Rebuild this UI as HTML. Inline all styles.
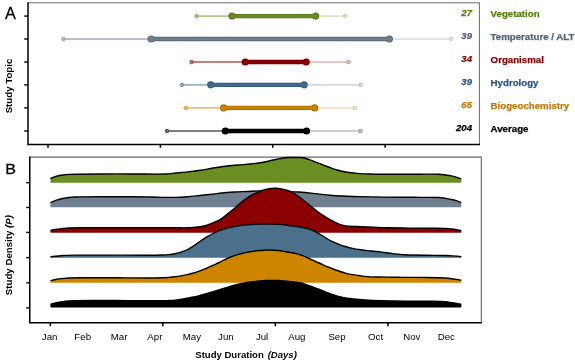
<!DOCTYPE html>
<html><head><meta charset="utf-8"><title>Study Topic / Study Density</title>
<style>
html,body{margin:0;padding:0;background:#fff;}
body{width:575px;height:362px;overflow:hidden;}
svg{display:block;font-family:"Liberation Sans",sans-serif;}
</style></head><body>
<svg width="575" height="362" viewBox="0 0 575 362">
<rect width="575" height="362" fill="#fff"/>
<g style="filter:opacity(1)">
<path d="M28,2.8H479.4V144.5" fill="none" stroke="#6a6a6a" stroke-width="1"/>
<path d="M28,2.3V144.45H479.9" fill="none" stroke="#000" stroke-width="1.5"/>
<path d="M24.2,16.10H28" stroke="#000" stroke-width="1.4"/>
<path d="M24.2,39.00H28" stroke="#000" stroke-width="1.4"/>
<path d="M24.2,62.05H28" stroke="#000" stroke-width="1.4"/>
<path d="M24.2,84.85H28" stroke="#000" stroke-width="1.4"/>
<path d="M24.2,107.90H28" stroke="#000" stroke-width="1.4"/>
<path d="M24.2,131.00H28" stroke="#000" stroke-width="1.4"/>
<path d="M48.00,144.45V147.8" stroke="#000" stroke-width="1.5"/>
<path d="M160.40,144.45V147.8" stroke="#000" stroke-width="1.5"/>
<path d="M272.75,144.45V147.8" stroke="#000" stroke-width="1.5"/>
<path d="M385.10,144.45V147.8" stroke="#000" stroke-width="1.5"/>
<g stroke="#6b8e23" fill="#6b8e23">
<path d="M196.50,16.10H232.00" stroke-width="1.9" opacity="0.5" fill="none"/>
<path d="M315.60,16.10H345.30" stroke-width="1.7" opacity="0.25" fill="none"/>
<circle cx="196.50" cy="16.10" r="1.8" stroke-width="1" stroke-opacity="0.6" fill="#fff"/>
<circle cx="196.50" cy="16.10" r="1.8" stroke-width="0" fill-opacity="0.55"/>
<circle cx="345.30" cy="16.10" r="1.8" stroke-width="1" stroke-opacity="0.32" fill="#fff"/>
<circle cx="345.30" cy="16.10" r="1.8" stroke-width="0" fill-opacity="0.22"/>
<path d="M232.00,16.10H315.60" stroke="#55711c" stroke-width="4.4" fill="none"/>
<circle cx="232.00" cy="16.10" r="3.55" fill="#55711c" stroke="none"/>
<circle cx="315.60" cy="16.10" r="3.55" fill="#55711c" stroke="none"/>
<path d="M232.00,16.10H315.60" stroke-width="2.6" fill="none"/>
<circle cx="232.00" cy="16.10" r="2.6" stroke="none"/>
<circle cx="315.60" cy="16.10" r="2.6" stroke="none"/>
</g>
<text x="472.0" y="16.20" text-anchor="end" font-size="9.6" font-weight="bold" font-style="italic" fill="#55800f" stroke="#55800f" stroke-width="0.25">27</text>
<text x="490.6" y="16.90" font-size="9.7" font-weight="bold" fill="#55800f" stroke="#55800f" stroke-width="0.25">Vegetation</text>
<g stroke="#708090" fill="#708090">
<path d="M63.40,39.00H151.10" stroke-width="1.9" opacity="0.5" fill="none"/>
<path d="M389.40,39.00H451.00" stroke-width="1.7" opacity="0.25" fill="none"/>
<circle cx="63.40" cy="39.00" r="1.8" stroke-width="1" stroke-opacity="0.6" fill="#fff"/>
<circle cx="63.40" cy="39.00" r="1.8" stroke-width="0" fill-opacity="0.55"/>
<circle cx="451.00" cy="39.00" r="1.8" stroke-width="1" stroke-opacity="0.32" fill="#fff"/>
<circle cx="451.00" cy="39.00" r="1.8" stroke-width="0" fill-opacity="0.22"/>
<path d="M151.10,39.00H389.40" stroke="#596673" stroke-width="4.4" fill="none"/>
<circle cx="151.10" cy="39.00" r="3.55" fill="#596673" stroke="none"/>
<circle cx="389.40" cy="39.00" r="3.55" fill="#596673" stroke="none"/>
<path d="M151.10,39.00H389.40" stroke-width="2.6" fill="none"/>
<circle cx="151.10" cy="39.00" r="2.6" stroke="none"/>
<circle cx="389.40" cy="39.00" r="2.6" stroke="none"/>
</g>
<text x="472.0" y="39.10" text-anchor="end" font-size="9.6" font-weight="bold" font-style="italic" fill="#526178" stroke="#526178" stroke-width="0.25">39</text>
<text x="490.6" y="39.80" font-size="9.7" font-weight="bold" fill="#526178" stroke="#526178" stroke-width="0.25">Temperature / ALT</text>
<g stroke="#8b0000" fill="#8b0000">
<path d="M191.60,62.05H245.20" stroke-width="1.9" opacity="0.5" fill="none"/>
<path d="M306.20,62.05H348.60" stroke-width="1.7" opacity="0.25" fill="none"/>
<circle cx="191.60" cy="62.05" r="1.8" stroke-width="1" stroke-opacity="0.6" fill="#fff"/>
<circle cx="191.60" cy="62.05" r="1.8" stroke-width="0" fill-opacity="0.55"/>
<circle cx="348.60" cy="62.05" r="1.8" stroke-width="1" stroke-opacity="0.32" fill="#fff"/>
<circle cx="348.60" cy="62.05" r="1.8" stroke-width="0" fill-opacity="0.22"/>
<path d="M245.20,62.05H306.20" stroke="#6f0000" stroke-width="4.4" fill="none"/>
<circle cx="245.20" cy="62.05" r="3.55" fill="#6f0000" stroke="none"/>
<circle cx="306.20" cy="62.05" r="3.55" fill="#6f0000" stroke="none"/>
<path d="M245.20,62.05H306.20" stroke-width="2.6" fill="none"/>
<circle cx="245.20" cy="62.05" r="2.6" stroke="none"/>
<circle cx="306.20" cy="62.05" r="2.6" stroke="none"/>
</g>
<text x="472.0" y="62.15" text-anchor="end" font-size="9.6" font-weight="bold" font-style="italic" fill="#850000" stroke="#850000" stroke-width="0.25">34</text>
<text x="490.6" y="62.85" font-size="9.7" font-weight="bold" fill="#850000" stroke="#850000" stroke-width="0.25">Organismal</text>
<g stroke="#3f6b92" fill="#3f6b92">
<path d="M182.00,84.85H210.70" stroke-width="1.9" opacity="0.5" fill="none"/>
<path d="M304.20,84.85H360.80" stroke-width="1.7" opacity="0.25" fill="none"/>
<circle cx="182.00" cy="84.85" r="1.8" stroke-width="1" stroke-opacity="0.6" fill="#fff"/>
<circle cx="182.00" cy="84.85" r="1.8" stroke-width="0" fill-opacity="0.55"/>
<circle cx="360.80" cy="84.85" r="1.8" stroke-width="1" stroke-opacity="0.32" fill="#fff"/>
<circle cx="360.80" cy="84.85" r="1.8" stroke-width="0" fill-opacity="0.22"/>
<path d="M210.70,84.85H304.20" stroke="#325574" stroke-width="4.4" fill="none"/>
<circle cx="210.70" cy="84.85" r="3.55" fill="#325574" stroke="none"/>
<circle cx="304.20" cy="84.85" r="3.55" fill="#325574" stroke="none"/>
<path d="M210.70,84.85H304.20" stroke-width="2.6" fill="none"/>
<circle cx="210.70" cy="84.85" r="2.6" stroke="none"/>
<circle cx="304.20" cy="84.85" r="2.6" stroke="none"/>
</g>
<text x="472.0" y="84.95" text-anchor="end" font-size="9.6" font-weight="bold" font-style="italic" fill="#2a5580" stroke="#2a5580" stroke-width="0.25">39</text>
<text x="490.6" y="85.65" font-size="9.7" font-weight="bold" fill="#2a5580" stroke="#2a5580" stroke-width="0.25">Hydrology</text>
<g stroke="#cd8500" fill="#cd8500">
<path d="M185.75,107.90H223.60" stroke-width="1.9" opacity="0.5" fill="none"/>
<path d="M314.60,107.90H355.10" stroke-width="1.7" opacity="0.25" fill="none"/>
<circle cx="185.75" cy="107.90" r="1.8" stroke-width="1" stroke-opacity="0.6" fill="#fff"/>
<circle cx="185.75" cy="107.90" r="1.8" stroke-width="0" fill-opacity="0.55"/>
<circle cx="355.10" cy="107.90" r="1.8" stroke-width="1" stroke-opacity="0.32" fill="#fff"/>
<circle cx="355.10" cy="107.90" r="1.8" stroke-width="0" fill-opacity="0.22"/>
<path d="M223.60,107.90H314.60" stroke="#a46a00" stroke-width="4.4" fill="none"/>
<circle cx="223.60" cy="107.90" r="3.55" fill="#a46a00" stroke="none"/>
<circle cx="314.60" cy="107.90" r="3.55" fill="#a46a00" stroke="none"/>
<path d="M223.60,107.90H314.60" stroke-width="2.6" fill="none"/>
<circle cx="223.60" cy="107.90" r="2.6" stroke="none"/>
<circle cx="314.60" cy="107.90" r="2.6" stroke="none"/>
</g>
<text x="472.0" y="108.00" text-anchor="end" font-size="9.6" font-weight="bold" font-style="italic" fill="#c57908" stroke="#c57908" stroke-width="0.25">65</text>
<text x="490.6" y="108.70" font-size="9.7" font-weight="bold" fill="#c57908" stroke="#c57908" stroke-width="0.25">Biogeochemistry</text>
<g stroke="#000000" fill="#000000">
<path d="M167.00,131.00H225.30" stroke-width="1.9" opacity="0.5" fill="none"/>
<path d="M306.60,131.00H360.40" stroke-width="1.7" opacity="0.25" fill="none"/>
<circle cx="167.00" cy="131.00" r="1.8" stroke-width="1" stroke-opacity="0.6" fill="#fff"/>
<circle cx="167.00" cy="131.00" r="1.8" stroke-width="0" fill-opacity="0.55"/>
<circle cx="360.40" cy="131.00" r="1.8" stroke-width="1" stroke-opacity="0.32" fill="#fff"/>
<circle cx="360.40" cy="131.00" r="1.8" stroke-width="0" fill-opacity="0.22"/>
<path d="M225.30,131.00H306.60" stroke="#000000" stroke-width="4.4" fill="none"/>
<circle cx="225.30" cy="131.00" r="3.55" fill="#000000" stroke="none"/>
<circle cx="306.60" cy="131.00" r="3.55" fill="#000000" stroke="none"/>
<path d="M225.30,131.00H306.60" stroke-width="2.6" fill="none"/>
<circle cx="225.30" cy="131.00" r="2.6" stroke="none"/>
<circle cx="306.60" cy="131.00" r="2.6" stroke="none"/>
</g>
<text x="472.0" y="131.10" text-anchor="end" font-size="9.6" font-weight="bold" font-style="italic" fill="#000000" stroke="#000000" stroke-width="0.25">204</text>
<text x="490.6" y="131.80" font-size="9.7" font-weight="bold" fill="#000000" stroke="#000000" stroke-width="0.25">Average</text>
<path d="M29.75,157.1H481.3V322.75" fill="none" stroke="#666" stroke-width="1.1"/>
<path d="M50.50,178.40 C51.50,178.05 54.46,176.86 56.50,176.30 C58.54,175.74 60.67,175.37 62.75,175.05 C64.83,174.73 65.88,174.54 69.00,174.40 C72.12,174.26 73.67,174.28 81.50,174.20 C89.33,174.12 106.08,173.93 116.00,173.90 C125.92,173.88 132.67,174.03 141.00,174.05 C149.33,174.08 160.83,174.16 166.00,174.05 C171.17,173.94 169.50,173.65 172.00,173.40 C174.50,173.15 178.33,172.80 181.00,172.55 C183.67,172.30 184.75,172.28 188.00,171.90 C191.25,171.53 196.33,170.94 200.50,170.30 C204.67,169.66 208.83,168.73 213.00,168.05 C217.17,167.37 221.33,166.70 225.50,166.20 C229.67,165.70 233.83,165.41 238.00,165.05 C242.17,164.69 246.83,164.43 250.50,164.05 C254.17,163.68 256.42,163.43 260.00,162.80 C263.58,162.18 269.00,160.93 272.00,160.30 C275.00,159.68 276.33,159.40 278.00,159.05 C279.67,158.70 280.83,158.43 282.00,158.20 C283.17,157.98 284.00,157.82 285.00,157.70 C286.00,157.58 286.50,157.54 288.00,157.50 C289.50,157.46 292.00,157.45 294.00,157.45 C296.00,157.45 298.50,157.45 300.00,157.50 C301.50,157.55 302.00,157.58 303.00,157.75 C304.00,157.92 304.83,158.14 306.00,158.50 C307.17,158.86 308.50,159.35 310.00,159.90 C311.50,160.45 312.75,160.93 315.00,161.80 C317.25,162.67 320.67,164.00 323.50,165.10 C326.33,166.20 329.58,167.53 332.00,168.40 C334.42,169.27 335.92,169.73 338.00,170.30 C340.08,170.87 342.38,171.38 344.50,171.80 C346.62,172.22 348.67,172.53 350.75,172.80 C352.83,173.07 353.88,173.19 357.00,173.40 C360.12,173.61 365.33,173.90 369.50,174.05 C373.67,174.20 376.25,174.26 382.00,174.30 C387.75,174.34 397.67,174.32 404.00,174.30 C410.33,174.28 414.21,174.20 420.00,174.20 C425.79,174.20 433.54,174.02 438.75,174.30 C443.96,174.58 448.12,175.36 451.25,175.90 C454.38,176.44 455.82,177.07 457.50,177.55 C459.18,178.03 460.67,178.59 461.30,178.80 L461.30,182.78 L50.50,182.78 Z" fill="#6b8e23" stroke="none"/>
<path d="M50.50,178.40 C51.50,178.05 54.46,176.86 56.50,176.30 C58.54,175.74 60.67,175.37 62.75,175.05 C64.83,174.73 65.88,174.54 69.00,174.40 C72.12,174.26 73.67,174.28 81.50,174.20 C89.33,174.12 106.08,173.93 116.00,173.90 C125.92,173.88 132.67,174.03 141.00,174.05 C149.33,174.08 160.83,174.16 166.00,174.05 C171.17,173.94 169.50,173.65 172.00,173.40 C174.50,173.15 178.33,172.80 181.00,172.55 C183.67,172.30 184.75,172.28 188.00,171.90 C191.25,171.53 196.33,170.94 200.50,170.30 C204.67,169.66 208.83,168.73 213.00,168.05 C217.17,167.37 221.33,166.70 225.50,166.20 C229.67,165.70 233.83,165.41 238.00,165.05 C242.17,164.69 246.83,164.43 250.50,164.05 C254.17,163.68 256.42,163.43 260.00,162.80 C263.58,162.18 269.00,160.93 272.00,160.30 C275.00,159.68 276.33,159.40 278.00,159.05 C279.67,158.70 280.83,158.43 282.00,158.20 C283.17,157.98 284.00,157.82 285.00,157.70 C286.00,157.58 286.50,157.54 288.00,157.50 C289.50,157.46 292.00,157.45 294.00,157.45 C296.00,157.45 298.50,157.45 300.00,157.50 C301.50,157.55 302.00,157.58 303.00,157.75 C304.00,157.92 304.83,158.14 306.00,158.50 C307.17,158.86 308.50,159.35 310.00,159.90 C311.50,160.45 312.75,160.93 315.00,161.80 C317.25,162.67 320.67,164.00 323.50,165.10 C326.33,166.20 329.58,167.53 332.00,168.40 C334.42,169.27 335.92,169.73 338.00,170.30 C340.08,170.87 342.38,171.38 344.50,171.80 C346.62,172.22 348.67,172.53 350.75,172.80 C352.83,173.07 353.88,173.19 357.00,173.40 C360.12,173.61 365.33,173.90 369.50,174.05 C373.67,174.20 376.25,174.26 382.00,174.30 C387.75,174.34 397.67,174.32 404.00,174.30 C410.33,174.28 414.21,174.20 420.00,174.20 C425.79,174.20 433.54,174.02 438.75,174.30 C443.96,174.58 448.12,175.36 451.25,175.90 C454.38,176.44 455.82,177.07 457.50,177.55 C459.18,178.03 460.67,178.59 461.30,178.80" fill="none" stroke="#000" stroke-width="1.4" stroke-linejoin="round"/>
<path d="M50.50,202.55 C51.50,202.16 54.46,200.87 56.50,200.20 C58.54,199.53 60.67,198.99 62.75,198.55 C64.83,198.11 66.96,197.80 69.00,197.55 C71.04,197.30 72.92,197.17 75.00,197.05 C77.08,196.93 74.67,196.91 81.50,196.85 C88.33,196.79 104.58,196.68 116.00,196.70 C127.42,196.72 142.25,196.84 150.00,196.95 C157.75,197.06 158.33,197.28 162.50,197.35 C166.67,197.42 170.83,197.46 175.00,197.35 C179.17,197.24 183.33,197.02 187.50,196.70 C191.67,196.38 195.83,195.87 200.00,195.45 C204.17,195.03 208.83,194.62 212.50,194.20 C216.17,193.78 218.33,193.31 222.00,192.95 C225.67,192.59 230.33,192.30 234.50,192.05 C238.67,191.80 242.83,191.65 247.00,191.45 C251.17,191.25 254.83,190.98 259.50,190.85 C264.17,190.72 269.92,190.52 275.00,190.65 C280.08,190.78 286.04,191.42 290.00,191.65 C293.96,191.88 296.25,191.90 298.75,192.05 C301.25,192.20 301.88,192.25 305.00,192.55 C308.12,192.85 313.33,193.41 317.50,193.85 C321.67,194.29 325.83,194.83 330.00,195.20 C334.17,195.57 338.83,195.84 342.50,196.05 C346.17,196.26 347.42,196.32 352.00,196.45 C356.58,196.58 362.00,196.72 370.00,196.85 C378.00,196.98 391.67,197.17 400.00,197.25 C408.33,197.33 413.54,197.30 420.00,197.35 C426.46,197.40 433.54,197.20 438.75,197.55 C443.96,197.90 448.12,198.87 451.25,199.45 C454.38,200.03 455.82,200.53 457.50,201.05 C459.18,201.57 460.67,202.30 461.30,202.55 L461.30,207.27 L50.50,207.27 Z" fill="#708090" stroke="none"/>
<path d="M50.50,202.55 C51.50,202.16 54.46,200.87 56.50,200.20 C58.54,199.53 60.67,198.99 62.75,198.55 C64.83,198.11 66.96,197.80 69.00,197.55 C71.04,197.30 72.92,197.17 75.00,197.05 C77.08,196.93 74.67,196.91 81.50,196.85 C88.33,196.79 104.58,196.68 116.00,196.70 C127.42,196.72 142.25,196.84 150.00,196.95 C157.75,197.06 158.33,197.28 162.50,197.35 C166.67,197.42 170.83,197.46 175.00,197.35 C179.17,197.24 183.33,197.02 187.50,196.70 C191.67,196.38 195.83,195.87 200.00,195.45 C204.17,195.03 208.83,194.62 212.50,194.20 C216.17,193.78 218.33,193.31 222.00,192.95 C225.67,192.59 230.33,192.30 234.50,192.05 C238.67,191.80 242.83,191.65 247.00,191.45 C251.17,191.25 254.83,190.98 259.50,190.85 C264.17,190.72 269.92,190.52 275.00,190.65 C280.08,190.78 286.04,191.42 290.00,191.65 C293.96,191.88 296.25,191.90 298.75,192.05 C301.25,192.20 301.88,192.25 305.00,192.55 C308.12,192.85 313.33,193.41 317.50,193.85 C321.67,194.29 325.83,194.83 330.00,195.20 C334.17,195.57 338.83,195.84 342.50,196.05 C346.17,196.26 347.42,196.32 352.00,196.45 C356.58,196.58 362.00,196.72 370.00,196.85 C378.00,196.98 391.67,197.17 400.00,197.25 C408.33,197.33 413.54,197.30 420.00,197.35 C426.46,197.40 433.54,197.20 438.75,197.55 C443.96,197.90 448.12,198.87 451.25,199.45 C454.38,200.03 455.82,200.53 457.50,201.05 C459.18,201.57 460.67,202.30 461.30,202.55" fill="none" stroke="#000" stroke-width="1.4" stroke-linejoin="round"/>
<path d="M50.50,230.55 C51.50,230.34 54.46,229.63 56.50,229.30 C58.54,228.97 60.67,228.76 62.75,228.55 C64.83,228.34 65.88,228.18 69.00,228.05 C72.12,227.93 68.00,227.84 81.50,227.80 C95.00,227.76 134.42,227.80 150.00,227.80 C165.58,227.80 168.75,227.80 175.00,227.80 C181.25,227.80 184.38,227.87 187.50,227.80 C190.62,227.73 191.67,227.57 193.75,227.40 C195.83,227.23 197.92,227.15 200.00,226.80 C202.08,226.45 204.17,225.93 206.25,225.30 C208.33,224.68 210.42,223.88 212.50,223.05 C214.58,222.22 217.17,221.08 218.75,220.30 C220.33,219.53 220.42,219.55 222.00,218.40 C223.58,217.25 226.17,215.07 228.25,213.40 C230.33,211.73 232.42,210.17 234.50,208.40 C236.58,206.63 238.67,204.53 240.75,202.80 C242.83,201.08 244.92,199.45 247.00,198.05 C249.08,196.65 251.17,195.48 253.25,194.40 C255.33,193.32 257.42,192.38 259.50,191.55 C261.58,190.72 263.67,189.93 265.75,189.40 C267.83,188.88 270.46,188.60 272.00,188.40 C273.54,188.20 273.96,188.20 275.00,188.20 C276.04,188.20 276.67,188.15 278.25,188.40 C279.83,188.65 282.42,189.15 284.50,189.70 C286.58,190.25 288.38,190.56 290.75,191.70 C293.12,192.84 296.38,194.91 298.75,196.55 C301.12,198.19 302.92,199.88 305.00,201.55 C307.08,203.22 309.17,204.88 311.25,206.55 C313.33,208.22 315.42,209.99 317.50,211.55 C319.58,213.11 321.67,214.54 323.75,215.90 C325.83,217.26 327.92,218.55 330.00,219.70 C332.08,220.85 334.21,221.90 336.25,222.80 C338.29,223.70 340.21,224.53 342.25,225.10 C344.29,225.67 345.38,225.93 348.50,226.20 C351.62,226.47 356.83,226.52 361.00,226.70 C365.17,226.88 369.33,227.12 373.50,227.30 C377.67,227.48 380.25,227.67 386.00,227.80 C391.75,227.93 400.17,228.03 408.00,228.10 C415.83,228.17 426.75,228.15 433.00,228.20 C439.25,228.25 442.38,228.26 445.50,228.40 C448.62,228.54 449.67,228.78 451.75,229.05 C453.83,229.33 456.41,229.78 458.00,230.05 C459.59,230.33 460.75,230.59 461.30,230.70 L461.30,232.68 L50.50,232.68 Z" fill="#8b0000" stroke="none"/>
<path d="M50.50,230.55 C51.50,230.34 54.46,229.63 56.50,229.30 C58.54,228.97 60.67,228.76 62.75,228.55 C64.83,228.34 65.88,228.18 69.00,228.05 C72.12,227.93 68.00,227.84 81.50,227.80 C95.00,227.76 134.42,227.80 150.00,227.80 C165.58,227.80 168.75,227.80 175.00,227.80 C181.25,227.80 184.38,227.87 187.50,227.80 C190.62,227.73 191.67,227.57 193.75,227.40 C195.83,227.23 197.92,227.15 200.00,226.80 C202.08,226.45 204.17,225.93 206.25,225.30 C208.33,224.68 210.42,223.88 212.50,223.05 C214.58,222.22 217.17,221.08 218.75,220.30 C220.33,219.53 220.42,219.55 222.00,218.40 C223.58,217.25 226.17,215.07 228.25,213.40 C230.33,211.73 232.42,210.17 234.50,208.40 C236.58,206.63 238.67,204.53 240.75,202.80 C242.83,201.08 244.92,199.45 247.00,198.05 C249.08,196.65 251.17,195.48 253.25,194.40 C255.33,193.32 257.42,192.38 259.50,191.55 C261.58,190.72 263.67,189.93 265.75,189.40 C267.83,188.88 270.46,188.60 272.00,188.40 C273.54,188.20 273.96,188.20 275.00,188.20 C276.04,188.20 276.67,188.15 278.25,188.40 C279.83,188.65 282.42,189.15 284.50,189.70 C286.58,190.25 288.38,190.56 290.75,191.70 C293.12,192.84 296.38,194.91 298.75,196.55 C301.12,198.19 302.92,199.88 305.00,201.55 C307.08,203.22 309.17,204.88 311.25,206.55 C313.33,208.22 315.42,209.99 317.50,211.55 C319.58,213.11 321.67,214.54 323.75,215.90 C325.83,217.26 327.92,218.55 330.00,219.70 C332.08,220.85 334.21,221.90 336.25,222.80 C338.29,223.70 340.21,224.53 342.25,225.10 C344.29,225.67 345.38,225.93 348.50,226.20 C351.62,226.47 356.83,226.52 361.00,226.70 C365.17,226.88 369.33,227.12 373.50,227.30 C377.67,227.48 380.25,227.67 386.00,227.80 C391.75,227.93 400.17,228.03 408.00,228.10 C415.83,228.17 426.75,228.15 433.00,228.20 C439.25,228.25 442.38,228.26 445.50,228.40 C448.62,228.54 449.67,228.78 451.75,229.05 C453.83,229.33 456.41,229.78 458.00,230.05 C459.59,230.33 460.75,230.59 461.30,230.70" fill="none" stroke="#000" stroke-width="1.4" stroke-linejoin="round"/>
<path d="M50.50,256.75 C52.54,256.54 58.67,255.77 62.75,255.50 C66.83,255.23 66.12,255.21 75.00,255.15 C83.88,255.09 103.50,255.13 116.00,255.15 C128.50,255.17 142.25,255.28 150.00,255.25 C157.75,255.22 159.38,255.10 162.50,255.00 C165.62,254.90 166.67,254.86 168.75,254.65 C170.83,254.44 172.92,254.17 175.00,253.75 C177.08,253.33 179.17,252.83 181.25,252.15 C183.33,251.47 185.42,250.70 187.50,249.65 C189.58,248.60 191.67,247.21 193.75,245.85 C195.83,244.49 197.92,242.95 200.00,241.50 C202.08,240.05 204.17,238.44 206.25,237.15 C208.33,235.86 210.42,234.80 212.50,233.75 C214.58,232.70 217.17,231.52 218.75,230.85 C220.33,230.18 220.42,230.27 222.00,229.75 C223.58,229.23 226.17,228.29 228.25,227.75 C230.33,227.21 232.42,226.88 234.50,226.50 C236.58,226.12 238.67,225.78 240.75,225.50 C242.83,225.22 244.92,225.04 247.00,224.85 C249.08,224.66 251.17,224.47 253.25,224.35 C255.33,224.23 257.42,224.21 259.50,224.15 C261.58,224.09 263.67,224.00 265.75,224.00 C267.83,224.00 269.92,224.09 272.00,224.15 C274.08,224.21 276.17,224.23 278.25,224.35 C280.33,224.47 282.42,224.62 284.50,224.85 C286.58,225.08 288.79,225.47 290.75,225.75 C292.71,226.03 294.29,226.21 296.25,226.50 C298.21,226.79 300.42,227.08 302.50,227.50 C304.58,227.92 306.67,228.33 308.75,229.00 C310.83,229.67 312.92,230.50 315.00,231.50 C317.08,232.50 319.17,233.75 321.25,235.00 C323.33,236.25 325.42,237.81 327.50,239.00 C329.58,240.19 331.67,241.18 333.75,242.15 C335.83,243.12 337.92,244.08 340.00,244.85 C342.08,245.62 344.17,246.17 346.25,246.75 C348.33,247.33 350.42,247.88 352.50,248.35 C354.58,248.82 356.25,249.17 358.75,249.55 C361.25,249.93 365.00,250.37 367.50,250.65 C370.00,250.93 371.67,251.05 373.75,251.25 C375.83,251.45 377.92,251.60 380.00,251.85 C382.08,252.10 384.17,252.45 386.25,252.75 C388.33,253.05 390.42,253.40 392.50,253.65 C394.58,253.90 396.67,254.07 398.75,254.25 C400.83,254.43 402.92,254.62 405.00,254.75 C407.08,254.88 407.58,254.92 411.25,255.00 C414.92,255.08 421.29,255.17 427.00,255.25 C432.71,255.33 441.38,255.40 445.50,255.50 C449.62,255.60 449.67,255.72 451.75,255.85 C453.83,255.97 456.41,256.10 458.00,256.25 C459.59,256.40 460.75,256.67 461.30,256.75 L461.30,257.75 L50.50,257.75 Z" fill="#4a708b" stroke="none"/>
<path d="M50.50,256.75 C52.54,256.54 58.67,255.77 62.75,255.50 C66.83,255.23 66.12,255.21 75.00,255.15 C83.88,255.09 103.50,255.13 116.00,255.15 C128.50,255.17 142.25,255.28 150.00,255.25 C157.75,255.22 159.38,255.10 162.50,255.00 C165.62,254.90 166.67,254.86 168.75,254.65 C170.83,254.44 172.92,254.17 175.00,253.75 C177.08,253.33 179.17,252.83 181.25,252.15 C183.33,251.47 185.42,250.70 187.50,249.65 C189.58,248.60 191.67,247.21 193.75,245.85 C195.83,244.49 197.92,242.95 200.00,241.50 C202.08,240.05 204.17,238.44 206.25,237.15 C208.33,235.86 210.42,234.80 212.50,233.75 C214.58,232.70 217.17,231.52 218.75,230.85 C220.33,230.18 220.42,230.27 222.00,229.75 C223.58,229.23 226.17,228.29 228.25,227.75 C230.33,227.21 232.42,226.88 234.50,226.50 C236.58,226.12 238.67,225.78 240.75,225.50 C242.83,225.22 244.92,225.04 247.00,224.85 C249.08,224.66 251.17,224.47 253.25,224.35 C255.33,224.23 257.42,224.21 259.50,224.15 C261.58,224.09 263.67,224.00 265.75,224.00 C267.83,224.00 269.92,224.09 272.00,224.15 C274.08,224.21 276.17,224.23 278.25,224.35 C280.33,224.47 282.42,224.62 284.50,224.85 C286.58,225.08 288.79,225.47 290.75,225.75 C292.71,226.03 294.29,226.21 296.25,226.50 C298.21,226.79 300.42,227.08 302.50,227.50 C304.58,227.92 306.67,228.33 308.75,229.00 C310.83,229.67 312.92,230.50 315.00,231.50 C317.08,232.50 319.17,233.75 321.25,235.00 C323.33,236.25 325.42,237.81 327.50,239.00 C329.58,240.19 331.67,241.18 333.75,242.15 C335.83,243.12 337.92,244.08 340.00,244.85 C342.08,245.62 344.17,246.17 346.25,246.75 C348.33,247.33 350.42,247.88 352.50,248.35 C354.58,248.82 356.25,249.17 358.75,249.55 C361.25,249.93 365.00,250.37 367.50,250.65 C370.00,250.93 371.67,251.05 373.75,251.25 C375.83,251.45 377.92,251.60 380.00,251.85 C382.08,252.10 384.17,252.45 386.25,252.75 C388.33,253.05 390.42,253.40 392.50,253.65 C394.58,253.90 396.67,254.07 398.75,254.25 C400.83,254.43 402.92,254.62 405.00,254.75 C407.08,254.88 407.58,254.92 411.25,255.00 C414.92,255.08 421.29,255.17 427.00,255.25 C432.71,255.33 441.38,255.40 445.50,255.50 C449.62,255.60 449.67,255.72 451.75,255.85 C453.83,255.97 456.41,256.10 458.00,256.25 C459.59,256.40 460.75,256.67 461.30,256.75" fill="none" stroke="#000" stroke-width="1.4" stroke-linejoin="round"/>
<path d="M50.50,280.65 C51.50,280.42 54.46,279.61 56.50,279.25 C58.54,278.89 60.67,278.71 62.75,278.50 C64.83,278.29 65.88,278.12 69.00,278.00 C72.12,277.88 73.67,277.79 81.50,277.75 C89.33,277.71 104.58,277.71 116.00,277.75 C127.42,277.79 142.25,278.00 150.00,278.00 C157.75,278.00 159.38,277.86 162.50,277.75 C165.62,277.64 166.67,277.52 168.75,277.35 C170.83,277.18 172.92,277.00 175.00,276.75 C177.08,276.50 179.17,276.20 181.25,275.85 C183.33,275.50 185.42,275.12 187.50,274.65 C189.58,274.17 191.67,273.63 193.75,273.00 C195.83,272.37 197.92,271.62 200.00,270.85 C202.08,270.08 204.17,269.24 206.25,268.35 C208.33,267.46 210.42,266.43 212.50,265.50 C214.58,264.57 217.17,263.49 218.75,262.75 C220.33,262.01 220.42,261.84 222.00,261.05 C223.58,260.26 226.17,258.90 228.25,258.00 C230.33,257.10 232.42,256.36 234.50,255.65 C236.58,254.94 238.67,254.30 240.75,253.75 C242.83,253.20 244.92,252.77 247.00,252.35 C249.08,251.93 251.17,251.56 253.25,251.25 C255.33,250.94 257.42,250.68 259.50,250.50 C261.58,250.32 264.00,250.23 265.75,250.15 C267.50,250.07 267.92,249.94 270.00,250.00 C272.08,250.06 275.83,250.25 278.25,250.50 C280.67,250.75 282.42,251.16 284.50,251.50 C286.58,251.84 288.79,252.19 290.75,252.55 C292.71,252.91 294.29,253.13 296.25,253.65 C298.21,254.17 300.42,254.88 302.50,255.65 C304.58,256.42 306.67,257.32 308.75,258.25 C310.83,259.18 312.92,260.29 315.00,261.25 C317.08,262.21 319.17,263.08 321.25,264.00 C323.33,264.92 325.42,265.88 327.50,266.75 C329.58,267.62 331.67,268.46 333.75,269.25 C335.83,270.04 337.92,270.82 340.00,271.50 C342.08,272.18 344.17,272.83 346.25,273.35 C348.33,273.88 350.42,274.28 352.50,274.65 C354.58,275.02 356.25,275.22 358.75,275.55 C361.25,275.88 363.96,276.41 367.50,276.65 C371.04,276.89 375.83,276.90 380.00,277.00 C384.17,277.10 388.33,277.19 392.50,277.25 C396.67,277.31 399.25,277.31 405.00,277.35 C410.75,277.39 420.25,277.39 427.00,277.50 C433.75,277.61 441.38,277.79 445.50,278.00 C449.62,278.21 449.67,278.48 451.75,278.75 C453.83,279.02 456.41,279.40 458.00,279.65 C459.59,279.90 460.75,280.15 461.30,280.25 L461.30,282.75 L50.50,282.75 Z" fill="#cd8500" stroke="none"/>
<path d="M50.50,280.65 C51.50,280.42 54.46,279.61 56.50,279.25 C58.54,278.89 60.67,278.71 62.75,278.50 C64.83,278.29 65.88,278.12 69.00,278.00 C72.12,277.88 73.67,277.79 81.50,277.75 C89.33,277.71 104.58,277.71 116.00,277.75 C127.42,277.79 142.25,278.00 150.00,278.00 C157.75,278.00 159.38,277.86 162.50,277.75 C165.62,277.64 166.67,277.52 168.75,277.35 C170.83,277.18 172.92,277.00 175.00,276.75 C177.08,276.50 179.17,276.20 181.25,275.85 C183.33,275.50 185.42,275.12 187.50,274.65 C189.58,274.17 191.67,273.63 193.75,273.00 C195.83,272.37 197.92,271.62 200.00,270.85 C202.08,270.08 204.17,269.24 206.25,268.35 C208.33,267.46 210.42,266.43 212.50,265.50 C214.58,264.57 217.17,263.49 218.75,262.75 C220.33,262.01 220.42,261.84 222.00,261.05 C223.58,260.26 226.17,258.90 228.25,258.00 C230.33,257.10 232.42,256.36 234.50,255.65 C236.58,254.94 238.67,254.30 240.75,253.75 C242.83,253.20 244.92,252.77 247.00,252.35 C249.08,251.93 251.17,251.56 253.25,251.25 C255.33,250.94 257.42,250.68 259.50,250.50 C261.58,250.32 264.00,250.23 265.75,250.15 C267.50,250.07 267.92,249.94 270.00,250.00 C272.08,250.06 275.83,250.25 278.25,250.50 C280.67,250.75 282.42,251.16 284.50,251.50 C286.58,251.84 288.79,252.19 290.75,252.55 C292.71,252.91 294.29,253.13 296.25,253.65 C298.21,254.17 300.42,254.88 302.50,255.65 C304.58,256.42 306.67,257.32 308.75,258.25 C310.83,259.18 312.92,260.29 315.00,261.25 C317.08,262.21 319.17,263.08 321.25,264.00 C323.33,264.92 325.42,265.88 327.50,266.75 C329.58,267.62 331.67,268.46 333.75,269.25 C335.83,270.04 337.92,270.82 340.00,271.50 C342.08,272.18 344.17,272.83 346.25,273.35 C348.33,273.88 350.42,274.28 352.50,274.65 C354.58,275.02 356.25,275.22 358.75,275.55 C361.25,275.88 363.96,276.41 367.50,276.65 C371.04,276.89 375.83,276.90 380.00,277.00 C384.17,277.10 388.33,277.19 392.50,277.25 C396.67,277.31 399.25,277.31 405.00,277.35 C410.75,277.39 420.25,277.39 427.00,277.50 C433.75,277.61 441.38,277.79 445.50,278.00 C449.62,278.21 449.67,278.48 451.75,278.75 C453.83,279.02 456.41,279.40 458.00,279.65 C459.59,279.90 460.75,280.15 461.30,280.25" fill="none" stroke="#000" stroke-width="1.4" stroke-linejoin="round"/>
<path d="M50.50,304.30 C51.50,304.03 54.46,303.13 56.50,302.70 C58.54,302.27 60.67,301.97 62.75,301.70 C64.83,301.43 66.96,301.23 69.00,301.05 C71.04,300.88 69.83,300.74 75.00,300.65 C80.17,300.56 90.83,300.49 100.00,300.50 C109.17,300.51 121.67,300.65 130.00,300.70 C138.33,300.75 144.58,300.78 150.00,300.80 C155.42,300.82 159.38,300.84 162.50,300.80 C165.62,300.76 166.67,300.65 168.75,300.55 C170.83,300.45 172.92,300.41 175.00,300.20 C177.08,299.99 179.17,299.62 181.25,299.30 C183.33,298.98 185.42,298.68 187.50,298.30 C189.58,297.93 191.67,297.53 193.75,297.05 C195.83,296.57 197.92,295.96 200.00,295.40 C202.08,294.84 204.17,294.30 206.25,293.70 C208.33,293.10 210.42,292.43 212.50,291.80 C214.58,291.17 217.17,290.38 218.75,289.90 C220.33,289.42 220.42,289.38 222.00,288.90 C223.58,288.43 226.17,287.67 228.25,287.05 C230.33,286.43 232.42,285.76 234.50,285.20 C236.58,284.64 238.67,284.17 240.75,283.70 C242.83,283.23 244.92,282.73 247.00,282.40 C249.08,282.07 251.17,281.93 253.25,281.70 C255.33,281.47 257.42,281.24 259.50,281.05 C261.58,280.86 263.67,280.66 265.75,280.55 C267.83,280.44 269.92,280.40 272.00,280.40 C274.08,280.40 276.17,280.44 278.25,280.55 C280.33,280.66 282.42,280.88 284.50,281.05 C286.58,281.23 288.79,281.39 290.75,281.60 C292.71,281.81 294.71,282.10 296.25,282.30 C297.79,282.50 298.33,282.43 300.00,282.80 C301.67,283.18 304.17,283.88 306.25,284.55 C308.33,285.22 310.42,286.03 312.50,286.80 C314.58,287.57 316.67,288.37 318.75,289.20 C320.83,290.03 322.92,290.97 325.00,291.80 C327.08,292.63 329.17,293.47 331.25,294.20 C333.33,294.93 335.42,295.62 337.50,296.20 C339.58,296.78 341.67,297.31 343.75,297.70 C345.83,298.09 347.92,298.28 350.00,298.55 C352.08,298.82 354.17,299.09 356.25,299.30 C358.33,299.51 359.88,299.62 362.50,299.80 C365.12,299.98 367.00,300.22 372.00,300.40 C377.00,300.58 387.00,300.77 392.50,300.90 C398.00,301.03 398.25,301.15 405.00,301.20 C411.75,301.25 426.25,301.12 433.00,301.20 C439.75,301.28 442.38,301.45 445.50,301.70 C448.62,301.95 449.67,302.37 451.75,302.70 C453.83,303.03 456.41,303.43 458.00,303.70 C459.59,303.97 460.75,304.20 461.30,304.30 L461.30,307.62 L50.50,307.62 Z" fill="#000000" stroke="none"/>
<path d="M50.50,304.30 C51.50,304.03 54.46,303.13 56.50,302.70 C58.54,302.27 60.67,301.97 62.75,301.70 C64.83,301.43 66.96,301.23 69.00,301.05 C71.04,300.88 69.83,300.74 75.00,300.65 C80.17,300.56 90.83,300.49 100.00,300.50 C109.17,300.51 121.67,300.65 130.00,300.70 C138.33,300.75 144.58,300.78 150.00,300.80 C155.42,300.82 159.38,300.84 162.50,300.80 C165.62,300.76 166.67,300.65 168.75,300.55 C170.83,300.45 172.92,300.41 175.00,300.20 C177.08,299.99 179.17,299.62 181.25,299.30 C183.33,298.98 185.42,298.68 187.50,298.30 C189.58,297.93 191.67,297.53 193.75,297.05 C195.83,296.57 197.92,295.96 200.00,295.40 C202.08,294.84 204.17,294.30 206.25,293.70 C208.33,293.10 210.42,292.43 212.50,291.80 C214.58,291.17 217.17,290.38 218.75,289.90 C220.33,289.42 220.42,289.38 222.00,288.90 C223.58,288.43 226.17,287.67 228.25,287.05 C230.33,286.43 232.42,285.76 234.50,285.20 C236.58,284.64 238.67,284.17 240.75,283.70 C242.83,283.23 244.92,282.73 247.00,282.40 C249.08,282.07 251.17,281.93 253.25,281.70 C255.33,281.47 257.42,281.24 259.50,281.05 C261.58,280.86 263.67,280.66 265.75,280.55 C267.83,280.44 269.92,280.40 272.00,280.40 C274.08,280.40 276.17,280.44 278.25,280.55 C280.33,280.66 282.42,280.88 284.50,281.05 C286.58,281.23 288.79,281.39 290.75,281.60 C292.71,281.81 294.71,282.10 296.25,282.30 C297.79,282.50 298.33,282.43 300.00,282.80 C301.67,283.18 304.17,283.88 306.25,284.55 C308.33,285.22 310.42,286.03 312.50,286.80 C314.58,287.57 316.67,288.37 318.75,289.20 C320.83,290.03 322.92,290.97 325.00,291.80 C327.08,292.63 329.17,293.47 331.25,294.20 C333.33,294.93 335.42,295.62 337.50,296.20 C339.58,296.78 341.67,297.31 343.75,297.70 C345.83,298.09 347.92,298.28 350.00,298.55 C352.08,298.82 354.17,299.09 356.25,299.30 C358.33,299.51 359.88,299.62 362.50,299.80 C365.12,299.98 367.00,300.22 372.00,300.40 C377.00,300.58 387.00,300.77 392.50,300.90 C398.00,301.03 398.25,301.15 405.00,301.20 C411.75,301.25 426.25,301.12 433.00,301.20 C439.75,301.28 442.38,301.45 445.50,301.70 C448.62,301.95 449.67,302.37 451.75,302.70 C453.83,303.03 456.41,303.43 458.00,303.70 C459.59,303.97 460.75,304.20 461.30,304.30" fill="none" stroke="#000" stroke-width="1.4" stroke-linejoin="round"/>
<path d="M29.75,156.5V322.75H481.9" fill="none" stroke="#000" stroke-width="1.5"/>
<path d="M26.2,182.70H29.75" stroke="#000" stroke-width="1.4"/>
<path d="M26.2,207.50H29.75" stroke="#000" stroke-width="1.4"/>
<path d="M26.2,232.40H29.75" stroke="#000" stroke-width="1.4"/>
<path d="M26.2,257.60H29.75" stroke="#000" stroke-width="1.4"/>
<path d="M26.2,282.80H29.75" stroke="#000" stroke-width="1.4"/>
<path d="M26.2,307.85H29.75" stroke="#000" stroke-width="1.4"/>
<path d="M50.30,322.75V326.2" stroke="#000" stroke-width="1.5"/>
<path d="M162.80,322.75V326.2" stroke="#000" stroke-width="1.5"/>
<path d="M275.30,322.75V326.2" stroke="#000" stroke-width="1.5"/>
<path d="M387.90,322.75V326.2" stroke="#000" stroke-width="1.5"/>
<text x="49.65" y="340.2" text-anchor="middle" font-size="9.7" fill="#000">Jan</text>
<text x="82.70" y="340.2" text-anchor="middle" font-size="9.7" fill="#000">Feb</text>
<text x="119.10" y="340.2" text-anchor="middle" font-size="9.7" fill="#000">Mar</text>
<text x="154.90" y="340.2" text-anchor="middle" font-size="9.7" fill="#000">Apr</text>
<text x="191.90" y="340.2" text-anchor="middle" font-size="9.7" fill="#000">May</text>
<text x="225.90" y="340.2" text-anchor="middle" font-size="9.7" fill="#000">Jun</text>
<text x="262.10" y="340.2" text-anchor="middle" font-size="9.7" fill="#000">Jul</text>
<text x="296.90" y="340.2" text-anchor="middle" font-size="9.7" fill="#000">Aug</text>
<text x="337.00" y="340.2" text-anchor="middle" font-size="9.7" fill="#000">Sep</text>
<text x="375.60" y="340.2" text-anchor="middle" font-size="9.7" fill="#000">Oct</text>
<text x="411.80" y="340.2" text-anchor="middle" font-size="9.7" fill="#000">Nov</text>
<text x="446.30" y="340.2" text-anchor="middle" font-size="9.7" fill="#000">Dec</text>
<text x="195.3" y="357.5" font-size="9.55" font-weight="bold" fill="#000">Study Duration <tspan font-style="italic" dx="1.3">(Days)</tspan></text>
<text transform="translate(11.5,86.0) rotate(-90)" text-anchor="middle" font-size="9.7" font-weight="bold" fill="#000">Study Topic</text>
<text transform="translate(11.6,255.1) rotate(-90)" text-anchor="middle" font-size="9.7" font-weight="bold" fill="#000">Study Density <tspan font-style="italic">(P)</tspan></text>
<text transform="translate(4.9,18.7) scale(1.02,1)" font-size="15.9" fill="#000" stroke="#000" stroke-width="0.25">A</text>
<text transform="translate(5.2,173.6) scale(1.06,1)" font-size="15.2" fill="#000" stroke="#000" stroke-width="0.25">B</text>
</g>
</svg>
</body></html>
